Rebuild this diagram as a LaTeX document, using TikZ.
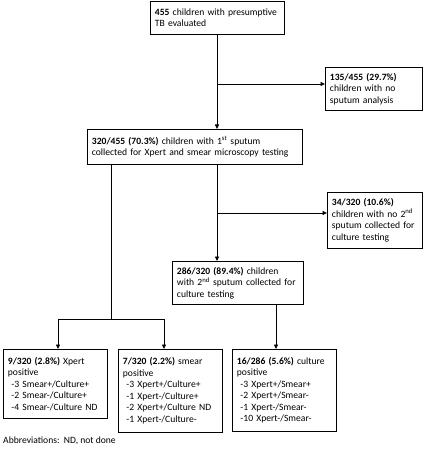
\documentclass[tikz,border=0pt]{standalone}
\usepackage{fontspec}
\setmainfont{Carlito}
\usetikzlibrary{arrows.meta}
\begin{document}
\begin{tikzpicture}[x=1pt,y=-1pt,
  every node/.style={font=\fontsize{9.6}{11.5}\selectfont},
  fbox/.style={draw,line width=0.9pt,inner xsep=4.5pt,inner ysep=2pt,align=left,anchor=north west},
  conn/.style={line width=0.8pt},
  arr/.style={conn,-{Triangle[length=4.5pt,width=4pt]}}]
\useasboundingbox (0,0) rectangle (423,449);
% boxes
\node[fbox,text width=125pt,minimum height=33pt] (b1) at (150,1)
  {\textbf{455} children with presumptive\\TB evaluated};
\node[fbox,text width=88pt,minimum height=43pt] (b135) at (325,67)
  {\textbf{135/455 (29.7\%)}\\children with no\\sputum analysis};
\node[fbox,text width=206pt,minimum height=35pt] (b2) at (87,129)
  {\textbf{320/455 (70.3\%)} children with 1\textsuperscript{st} sputum\\collected for Xpert and smear microscopy testing};
\node[fbox,text width=86pt,minimum height=56pt] (b34) at (327,192)
  {\textbf{34/320 (10.6\%)}\\children with no 2\textsuperscript{nd}\\sputum collected for\\culture testing};
\node[fbox,text width=122pt,minimum height=43pt] (b286) at (172,261)
  {\textbf{286/320 (89.4\%)} children\\with 2\textsuperscript{nd} sputum collected for\\culture testing};
\node[fbox,text width=95pt,minimum height=69pt] (bx) at (3,349)
  {\textbf{9/320 (2.8\%)} Xpert\\positive\\
   \hspace*{3.5pt}-3 Smear+/Culture+\\
   \hspace*{3.5pt}-2 Smear-/Culture+\\
   \hspace*{3.5pt}-4 Smear-/Culture ND};
\node[fbox,text width=95pt,minimum height=83pt] (bs) at (118,349)
  {\textbf{7/320 (2.2\%)} smear\\positive\\
   \hspace*{3.5pt}-3 Xpert+/Culture+\\
   \hspace*{3.5pt}-1 Xpert-/Culture+\\
   \hspace*{3.5pt}-2 Xpert+/Culture ND\\
   \hspace*{3.5pt}-1 Xpert-/Culture-};
\node[fbox,text width=95pt,minimum height=82pt] (bc) at (232,349)
  {\textbf{16/286 (5.6\%)} culture\\positive\\
   \hspace*{3.5pt}-3 Xpert+/Smear+\\
   \hspace*{3.5pt}-2 Xpert+/Smear-\\
   \hspace*{3.5pt}-1 Xpert-/Smear-\\
   \hspace*{3.5pt}-10 Xpert-/Smear-};
\node[anchor=west,inner sep=0pt] (abbr) at (3,441) {Abbreviations:\ \ ND, not done};
% helper coordinates
\coordinate (c1) at (217,84);
\coordinate (c2top) at (217,164);
\coordinate (c2) at (217,213);
\coordinate (l0) at (111,164);
\coordinate (l1) at (111,319);
\coordinate (lx) at (58,319);
\coordinate (ls) at (164,319);
\coordinate (r0) at (276,304);
% connectors
\draw[arr] (b1.south -| c1) -- (b2.north -| c1);
\draw[arr] (c1) -- (b135.west |- c1);
\draw[arr] (c2top) -- (b286.north -| c2top);
\draw[arr] (c2) -- (b34.west |- c2);
\draw[conn] (l0) -- (l1);
\draw[conn] (lx) -- (ls);
\draw[arr] (lx) -- (bx.north -| lx);
\draw[arr] (ls) -- (bs.north -| ls);
\draw[arr] (r0) -- (bc.north -| r0);
\end{tikzpicture}
\end{document}
